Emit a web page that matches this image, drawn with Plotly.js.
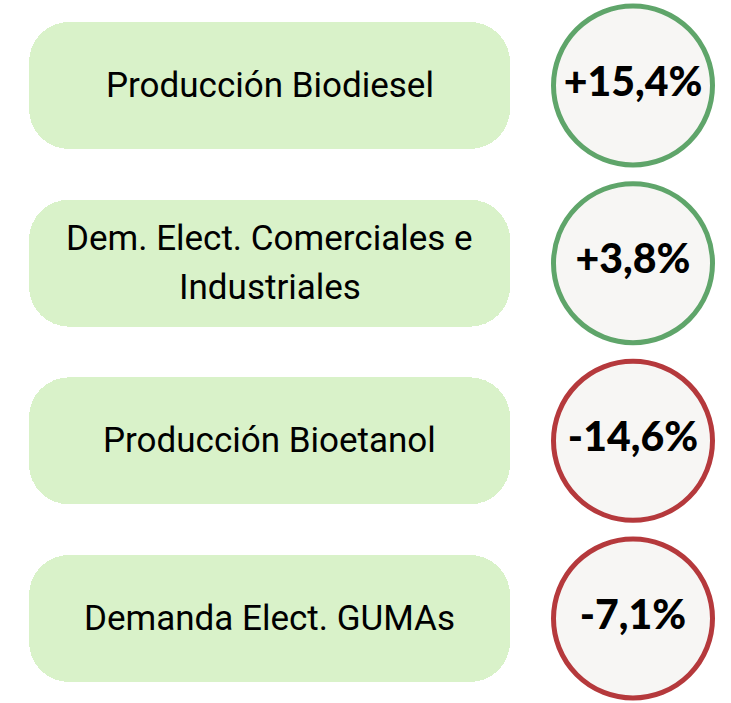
<!DOCTYPE html>
<html>
<head>
<meta charset="utf-8">
<script src="https://cdn.plot.ly/plotly-3.0.1.min.js"></script>
<style>html,body{margin:0;padding:0;background:#fff;}#chart{width:731px;height:703px;}</style>
</head>
<body>
<div id="chart"></div>
<script>
// ---- data ----
const labels = [
  "Producción Biodiesel",
  "Dem. Elect. Comerciales e\nIndustriales",
  "Producción Bioetanol",
  "Demanda Elect. GUMAs"
];
const changes = [15.4, 3.8, -14.6, -7.1];
const changeLabels = ["+15,4%", "+3,8%", "-14,6%", "-7,1%"];

// ---- layout constants ----
const W = 731, H = 703;
const boxLeft = 29, boxRight = 510;
const circleX = 633;
const rowIdx = labels.map((_, i) => i);
const green = "#5fa56a", red = "#b5393c";

const boxTrace = {
  type: "bar", orientation: "h",
  y: rowIdx,
  x: rowIdx.map(() => boxRight - boxLeft),
  base: boxLeft,
  width: 0.715,
  marker: {color: "#d9f2c9", cornerradius: 40, line: {width: 0}},
  hoverinfo: "skip"
};

const circleTrace = {
  type: "scatter", mode: "markers+text",
  x: rowIdx.map(() => circleX),
  y: rowIdx,
  text: changeLabels,
  textposition: "middle center",
  textfont: {family: "Lato, 'Open Sans', sans-serif", size: 41, color: "#000", weight: 900},
  marker: {
    size: 159, color: "#f7f6f4",
    line: {width: 5, color: changes.map(v => v >= 0 ? green : red)}
  },
  hoverinfo: "skip", cliponaxis: false
};

const annotations = [];
labels.forEach((lab, i) => {
  const lines = lab.split("\n");
  lines.forEach((ln, j) => {
    annotations.push({
      x: (boxLeft + boxRight) / 2, y: i, xref: "x", yref: "y",
      text: ln, showarrow: false,
      xanchor: "center", yanchor: "middle",
      yshift: -((j - (lines.length - 1) / 2) * 49),
      font: {family: "Roboto, sans-serif", size: 35, color: "#000"}
    });
  });
});

const layout = {
  width: W, height: H,
  margin: {l: 0, r: 0, t: 0, b: 0},
  paper_bgcolor: "#fff", plot_bgcolor: "#fff",
  showlegend: false,
  xaxis: {range: [0, W], visible: false, fixedrange: true},
  yaxis: {range: [3.4756, -0.4812], visible: false, fixedrange: true},
  annotations: annotations,
  bargap: 0
};

Plotly.newPlot("chart", [boxTrace, circleTrace], layout, {displayModeBar: false, staticPlot: true});
</script>
</body>
</html>
